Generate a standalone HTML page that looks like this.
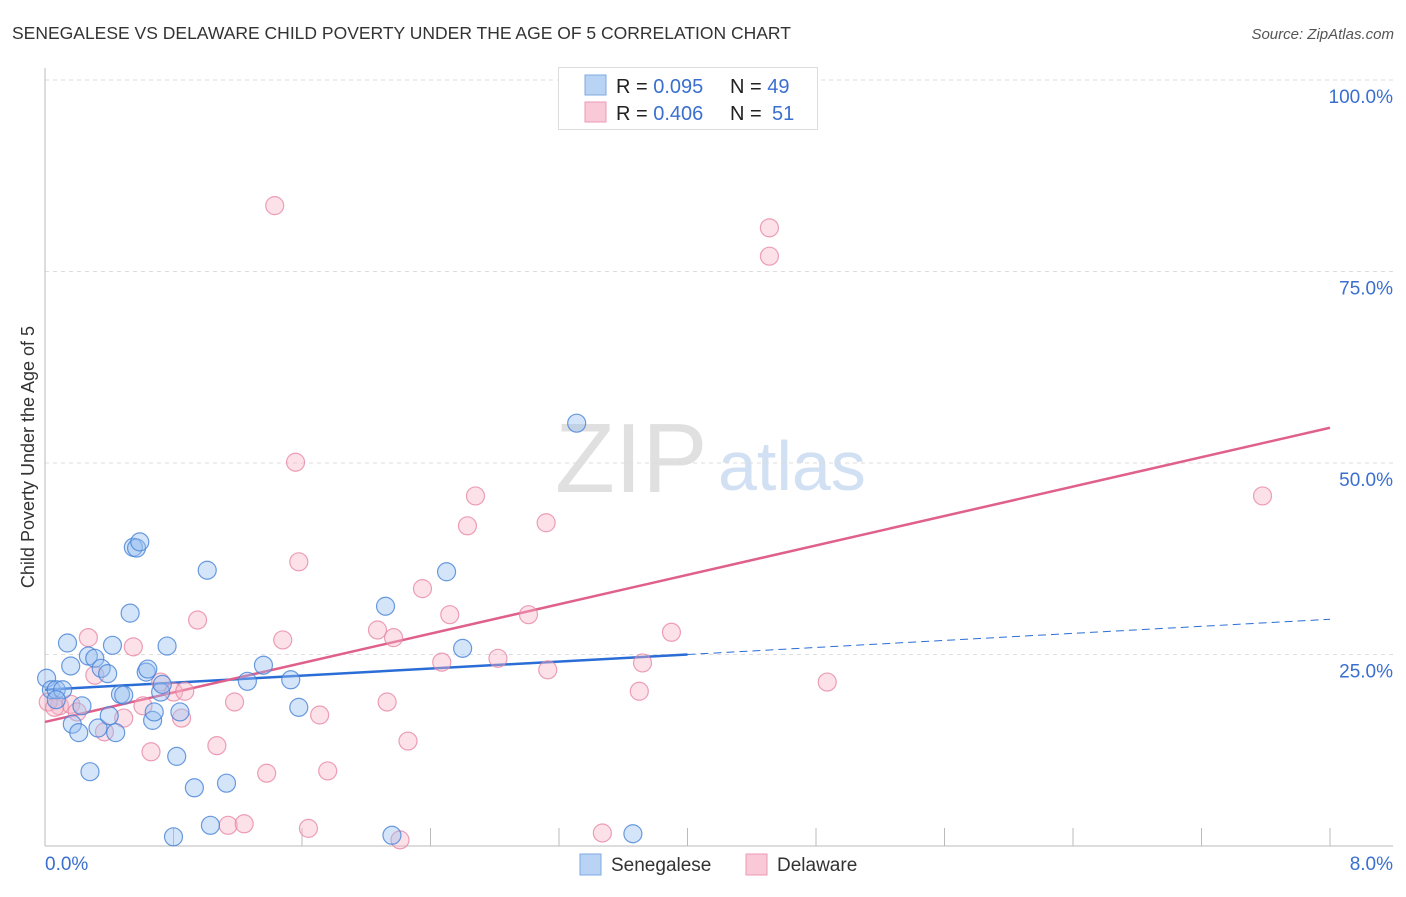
<!DOCTYPE html>
<html><head><meta charset="utf-8"><style>
body{margin:0;background:#fff;font-family:"Liberation Sans",sans-serif}
svg text{font-family:"Liberation Sans",sans-serif}
</style></head><body>
<svg id="chart" width="1406" height="892" viewBox="0 0 1406 892">
<text x="12" y="39" font-size="17.5" fill="#333">SENEGALESE VS DELAWARE CHILD POVERTY UNDER THE AGE OF 5 CORRELATION CHART</text>
<text x="1394" y="39" font-size="15" fill="#555" font-style="italic" text-anchor="end">Source: ZipAtlas.com</text>
<text x="34" y="457" font-size="18" fill="#333" text-anchor="middle" transform="rotate(-90 34 457)">Child Poverty Under the Age of 5</text>
<text x="555" y="492" font-size="98" fill="#e0e0e0" font-family="Liberation Serif">ZIP</text>
<text x="718" y="490" font-size="70" fill="#d2e0f3">atlas</text>
<g id="grid"></g><g id="axes"></g><g id="lines"></g><g id="pts"></g>
<g>
<rect x="558.5" y="67.5" width="259" height="62" fill="#fff" stroke="#ddd"/>
<rect x="585" y="75" width="21" height="20" fill="#b9d3f5" stroke="#7fa8e0"/>
<rect x="585" y="102" width="21" height="20" fill="#f9c9d8" stroke="#ec9ab5"/>
<text x="616" y="93" font-size="20" fill="#222">R = <tspan fill="#3a6fd0">0.095</tspan><tspan x="730">N = </tspan><tspan fill="#3a6fd0">49</tspan></text>
<text x="616" y="120" font-size="20" fill="#222">R = <tspan fill="#3a6fd0">0.406</tspan><tspan x="730">N = </tspan><tspan fill="#3a6fd0" x="772">51</tspan></text>
</g>
<g>
<rect x="580" y="854" width="21" height="21" fill="#b9d3f5" stroke="#7fa8e0"/>
<text x="611" y="871" font-size="19" fill="#333">Senegalese</text>
<rect x="746" y="854" width="21" height="21" fill="#f9c9d8" stroke="#ec9ab5"/>
<text x="777" y="871" font-size="19" fill="#333">Delaware</text>
</g>
</svg>
<script>
const yTicks=[25,50,75,100];
const yTickLabels=["25.0%","50.0%","75.0%","100.0%"];
const xTicks=[0,0.8,1.6,2.4,3.2,4.0,4.8,5.6,6.4,7.2,8.0];
const blueX=[0.01,0.04,0.07,0.11,0.14,0.16,0.17,0.21,0.23,0.27,0.28,0.31,0.33,0.35,0.39,0.40,0.42,0.44,0.47,0.49,0.53,0.55,0.57,0.59,0.63,0.64,0.67,0.68,0.72,0.73,0.76,0.80,0.82,0.84,0.93,1.01,1.03,1.13,1.26,1.36,1.53,1.58,2.12,2.16,2.50,2.60,3.31,3.66,0.07];
const blueY=[21.9,20.4,20.4,20.4,26.5,23.5,15.9,14.8,18.3,24.8,9.7,24.5,15.4,23.2,22.5,17.0,26.2,14.8,19.8,19.7,30.4,39.0,38.9,39.7,22.7,23.1,16.4,17.5,20.1,21.1,26.1,1.2,11.7,17.5,7.6,36.0,2.7,8.2,21.5,23.6,21.7,18.1,31.3,1.4,35.8,25.8,55.2,1.6,19.1];
const pinkX=[1.43,4.51,4.51,1.56,2.68,2.63,3.12,1.58,7.58,2.35,2.52,3.01,0.95,0.27,0.55,1.48,2.07,2.17,3.90,2.47,2.82,3.13,3.72,3.70,4.87,0.31,0.72,0.80,0.87,1.18,2.13,1.71,0.49,0.85,0.37,0.61,0.09,0.16,0.20,0.66,1.07,2.26,1.38,1.76,1.14,1.24,1.64,2.21,3.47,0.02,0.06];
const pinkY=[83.6,80.7,77.0,50.1,45.7,41.8,42.2,37.1,45.7,33.6,30.2,30.2,29.5,27.2,26.0,26.9,28.2,27.2,27.9,24.0,24.5,23.0,23.9,20.2,21.4,22.3,21.4,20.1,20.2,18.8,18.8,17.1,16.7,16.7,14.9,18.3,18.3,18.5,17.5,12.3,13.1,13.7,9.5,9.8,2.7,2.9,2.3,0.8,1.7,18.8,18.1];
const blueLine=[20.4,29.6];
const blueSolidEnd=4.0;
const pinkLine=[16.2,54.6];
const X0=45,X1=1330,Y0=846,Y1=80;
const sx=v=>X0+(X1-X0)*v/8, sy=v=>Y0-(Y0-Y1)*v/100;
const NS="http://www.w3.org/2000/svg";
function mk(tag,attrs,parent){const e=document.createElementNS(NS,tag);for(const k in attrs)e.setAttribute(k,attrs[k]);document.getElementById(parent).appendChild(e);return e;}
yTicks.forEach((t,i)=>{
 const l=mk('line',{x1:45,x2:1393,y1:sy(t),y2:sy(t),stroke:'#ddd','stroke-dasharray':'4,4'},'grid');
 
 
 const tx=mk('text',{x:1393,y:sy(t)+23,'font-size':19,fill:'#3a6fd0','text-anchor':'end'},'grid');
 tx.textContent=yTickLabels[i];
 
 
});
const ya=mk('line',{x1:45,x2:45,y1:68,y2:846,stroke:'#bbb'},'axes');


const xa=mk('line',{x1:45,x2:1393,y1:846,y2:846,stroke:'#bbb'},'axes');


xTicks.forEach(t=>{
 const l=mk('line',{x1:sx(t),x2:sx(t),y1:828,y2:846,stroke:'#bbb'},'axes');
 
 
});
const xl0=mk('text',{x:45,y:870,'font-size':19,fill:'#3a6fd0'},'axes');xl0.textContent='0.0%';


const xl1=mk('text',{x:1393,y:870,'font-size':19,fill:'#3a6fd0','text-anchor':'end'},'axes');xl1.textContent='8.0%';


function pts(X,Y,fill,stroke,name){X.forEach((x,i)=>{
 const c=mk('circle',{cx:sx(x),cy:sy(Y[i]),r:9,fill:fill,stroke:stroke,'stroke-width':1.2},'pts');
 
 
});}
pts(pinkX,pinkY,'rgba(248,180,200,0.4)','rgba(230,130,160,0.75)','delaware-point');
pts(blueX,blueY,'rgba(150,190,240,0.4)','rgba(70,130,215,0.8)','senegalese-point');
const by=x=>blueLine[0]+(blueLine[1]-blueLine[0])*x/8;
const b1=mk('line',{x1:sx(0),y1:sy(by(0)),x2:sx(blueSolidEnd),y2:sy(by(blueSolidEnd)),stroke:'#2a6dd6','stroke-width':2.5},'lines');


const b2=mk('line',{x1:sx(blueSolidEnd),y1:sy(by(blueSolidEnd)),x2:sx(8),y2:sy(by(8)),stroke:'#2a6dd6','stroke-width':1,'stroke-dasharray':'8,5'},'lines');


const p1=mk('line',{x1:sx(0),y1:sy(pinkLine[0]),x2:sx(8),y2:sy(pinkLine[1]),stroke:'#e0608c','stroke-width':2.5},'lines');


</script>
</body></html>
